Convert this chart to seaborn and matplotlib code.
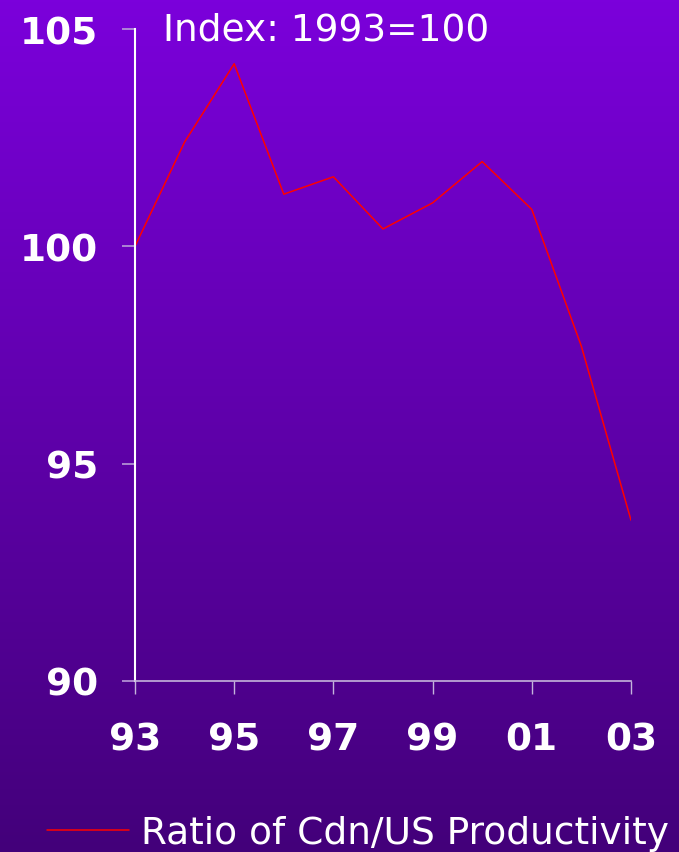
import numpy as np
import pandas as pd
import matplotlib
matplotlib.use("Agg")
import matplotlib.pyplot as plt
import seaborn as sns

# data (index, 1993 = 100)
years = [1993, 1994, 1995, 1996, 1997, 1998, 1999, 2000, 2001, 2002, 2003]
ratio = [100.0, 102.4, 104.2, 101.2, 101.6, 100.4, 101.0, 101.95, 100.85, 97.7, 93.7]
xtick_years = [1993, 1995, 1997, 1999, 2001, 2003]
xtick_labels = ["93", "95", "97", "99", "01", "03"]
yticks = [90, 95, 100, 105]
title_text = "Index: 1993=100"
series_name = "Ratio of Cdn/US Productivity"

sns.set_style("white")
plt.rcParams['font.family'] = ['DejaVu Sans']

df = pd.DataFrame({"Year": years, "Ratio": ratio})

fig = plt.figure(figsize=(6.79, 8.53), dpi=100)

# purple gradient background
bg = fig.add_axes([0, 0, 1, 1], zorder=-1)
top = np.array([0x7b, 0x00, 0xdb]) / 255
bottom = np.array([0x43, 0x00, 0x7a]) / 255
t = np.linspace(0, 1, 256)[:, None]
grad = (top[None, :] * (1 - t) + bottom[None, :] * t)[:, None, :]
bg.imshow(grad, aspect='auto', extent=[0, 1, 0, 1])
bg.axis('off')

ax = fig.add_axes([0.1988, 0.2005, 0.7305, 0.7643])
ax.patch.set_alpha(0)
sns.lineplot(data=df, x="Year", y="Ratio", ax=ax, color='#ff0000', linewidth=1.1, label=series_name)

ax.set_xlim(1993, 2003)
ax.set_ylim(90, 105)
ax.set_xticks(xtick_years)
ax.set_xticklabels(xtick_labels)
ax.set_yticks(yticks)
ax.set_xlabel("")
ax.set_ylabel("")

for s in ['top', 'right']:
    ax.spines[s].set_visible(False)
ax.spines['left'].set_color('white')
ax.spines['left'].set_linewidth(1.5)
ax.spines['bottom'].set_color('#c4b4dc')
ax.spines['bottom'].set_linewidth(1.2)

ax.tick_params(axis='y', direction='out', length=9.5, width=1.2, color='#b89ad8',
               pad=17, labelsize=27, labelcolor='white', left=True)
ax.tick_params(axis='x', direction='out', length=9.5, width=1.0, color='#c4b4dc',
               pad=20, labelsize=27, labelcolor='white', bottom=True)
for lab in ax.get_xticklabels() + ax.get_yticklabels():
    lab.set_fontweight('bold')

fig.text(0.24, 0.953, title_text, color='white', fontsize=27, ha='left', va='baseline')

ax.get_legend().remove()
leg = fig.legend(loc='center left', bbox_to_anchor=(0.069, 0.022), frameon=False,
                 fontsize=27, handlelength=2.2, handletextpad=0.3,
                 borderpad=0, borderaxespad=0)
for txt in leg.get_texts():
    txt.set_color('white')

fig.savefig("out.png", dpi=100)
